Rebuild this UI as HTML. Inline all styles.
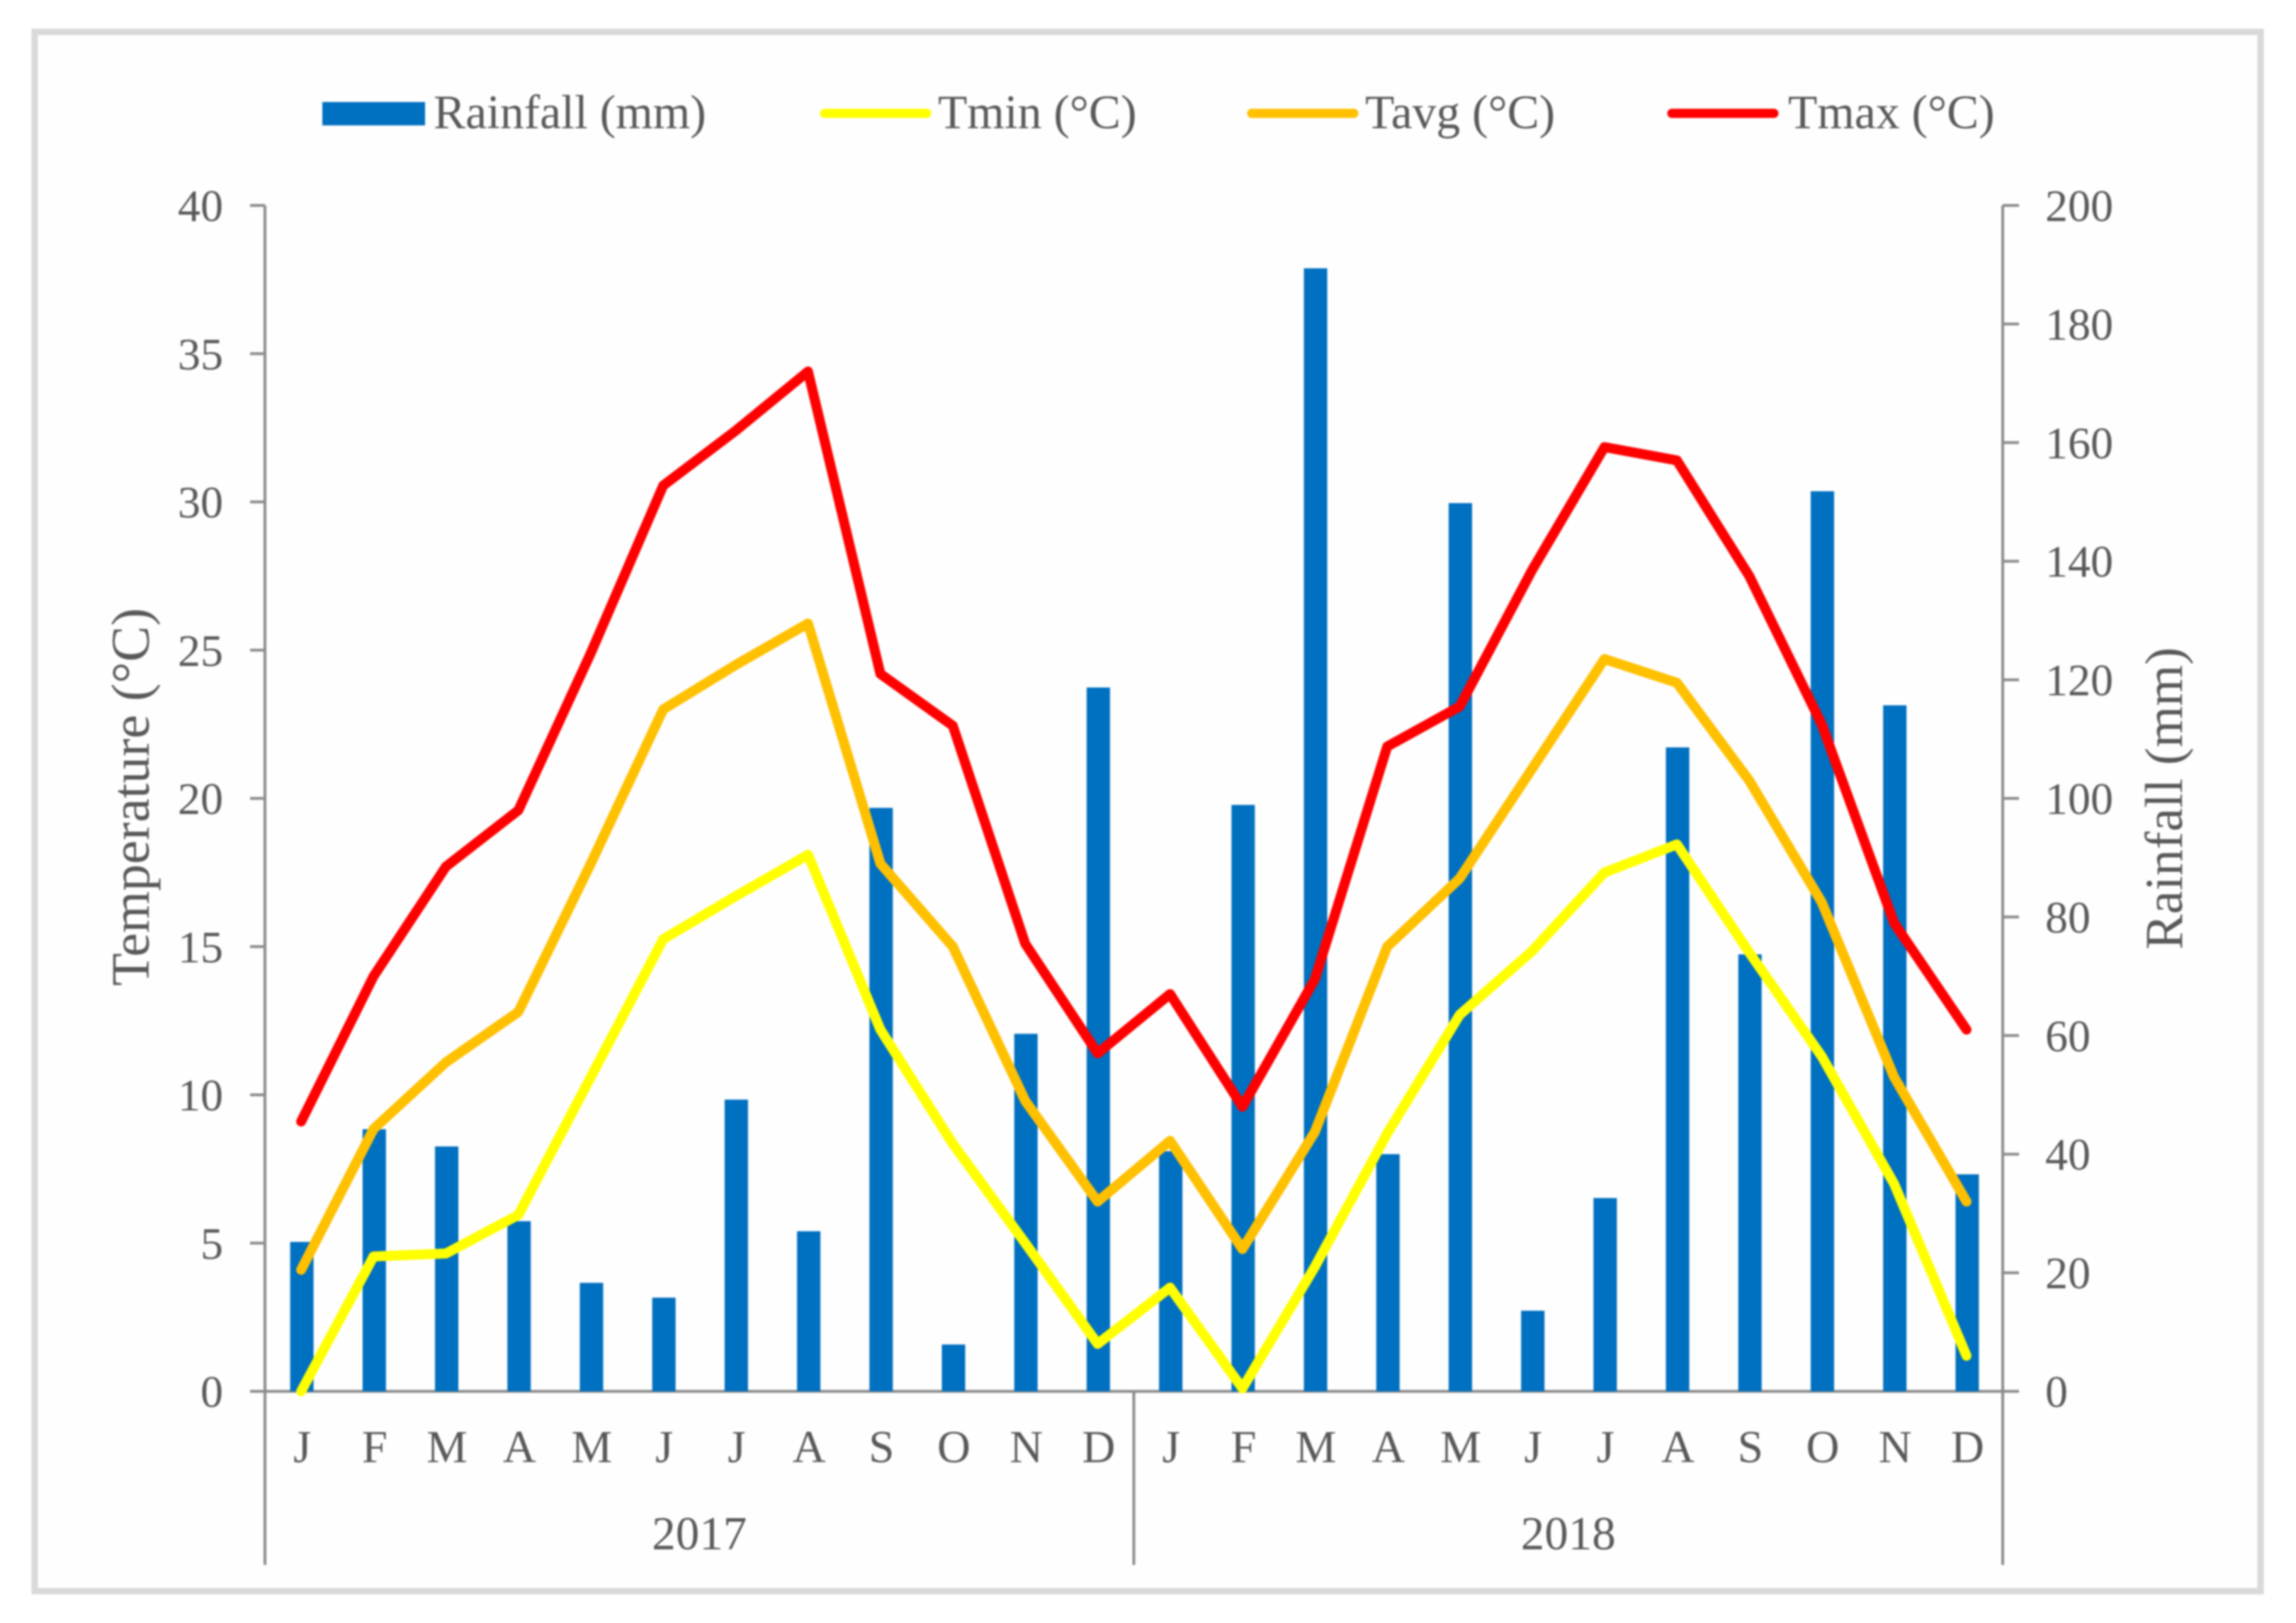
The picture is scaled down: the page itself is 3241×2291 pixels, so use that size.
<!DOCTYPE html>
<html lang="en">
<head>
<meta charset="utf-8">
<title>Monthly rainfall and temperature 2017-2018</title>
<style>
html,body{margin:0;padding:0;background:#fff;width:3241px;height:2291px;overflow:hidden}
svg{display:block;filter:blur(1.2px)}
text{font-family:"Liberation Serif",serif;fill:#595959}
</style>
</head>
<body>
<svg id="chart" xmlns="http://www.w3.org/2000/svg" width="3241" height="2291" viewBox="0 0 3241 2291">
  <rect x="49" y="45" width="3142" height="2201" fill="#fefefe" stroke="#d9d9d9" stroke-width="9"/>
  <g>
    <g>
      <rect x="455" y="144" width="145" height="33" fill="#0070c0"/>
      <text x="612" y="181" font-size="67.6">Rainfall (mm)</text>
    </g>
    <g>
      <line x1="1164" y1="160" x2="1308" y2="160" stroke="#ffff00" stroke-width="13" stroke-linecap="round"/>
      <text x="1324" y="181" font-size="67.6">Tmin (°C)</text>
    </g>
    <g>
      <line x1="1767" y1="160" x2="1911" y2="160" stroke="#ffc000" stroke-width="13" stroke-linecap="round"/>
      <text x="1927" y="181" font-size="67.6">Tavg (°C)</text>
    </g>
    <g>
      <line x1="2360" y1="160" x2="2504" y2="160" stroke="#ff0000" stroke-width="13" stroke-linecap="round"/>
      <text x="2524" y="181" font-size="67.6">Tmax (°C)</text>
    </g>
  </g>
  <text transform="translate(210 1125) rotate(-90)" text-anchor="middle" font-size="76">Temperature (°C)</text>
  <text transform="translate(3080 1127) rotate(-90)" text-anchor="middle" font-size="75">Rainfall (mm)</text>
  <g id="axes"></g>
  <g id="bars"></g>
  <g id="lines"></g>
</svg>
<script>
const months = ["J","F","M","A","M","J","J","A","S","O","N","D","J","F","M","A","M","J","J","A","S","O","N","D"];
const years = ["2017","2018"];
const tempTicks = [0,5,10,15,20,25,30,35,40];
const rainTicks = [0,20,40,60,80,100,120,140,160,180,200];
const rainfall = [25.2,44.2,41.3,28.7,18.3,15.8,49.2,27,98.4,7.9,60.3,118.7,40.5,98.9,189.4,40,149.8,13.6,32.6,108.6,73.7,151.8,115.7,36.6];
const tmin = [0,4.55,4.65,5.95,10.6,15.25,16.7,18.1,12.2,8.35,5,1.6,3.5,0.1,4.2,8.7,12.7,14.85,17.5,18.45,14.8,11.3,7,1.2];
const tavg = [4.1,8.85,11.1,12.8,17.8,23,24.5,25.9,17.8,15,9.8,6.4,8.45,4.8,8.75,15,17.3,21,24.7,23.9,20.6,16.5,10.6,6.4];
const tmax = [9.1,14,17.7,19.6,24.9,30.55,32.4,34.4,24.2,22.45,15.1,11.4,13.4,9.6,13.9,21.75,23.1,27.7,31.85,31.4,27.5,22.5,15.8,12.2];

const NS = "http://www.w3.org/2000/svg";
const plotLeft = 374, plotRight = 2827, plotBottom = 1964, plotTop = 290, axisEnd = 2209;
const step = (plotRight - plotLeft) / months.length;
const xScale = i => plotLeft + step * (i + 0.5);
const yTemp = v => plotBottom - (v / 40) * (plotBottom - plotTop);
const yRain = v => plotBottom - (v / 200) * (plotBottom - plotTop);

function make(tag, attrs, parent, content) {
  const el = document.createElementNS(NS, tag);
  for (const k in attrs) el.setAttribute(k, attrs[k]);
  if (content !== undefined) el.textContent = content;
  parent.appendChild(el);
  return el;
}

const axes = document.getElementById("axes");
const barsG = document.getElementById("bars");
const linesG = document.getElementById("lines");
const axisStyle = {stroke: "#8c8c8c", "stroke-width": 4};

const leftAxis = make("line", {x1: plotLeft, y1: plotTop, x2: plotLeft, y2: axisEnd, ...axisStyle}, axes);


const rightAxis = make("line", {x1: plotRight, y1: plotTop, x2: plotRight, y2: axisEnd, ...axisStyle}, axes);


const baseAxis = make("line", {x1: plotLeft, y1: plotBottom, x2: plotRight, y2: plotBottom, ...axisStyle}, axes);



years.forEach((yr, i) => {
  const groupWidth = (plotRight - plotLeft) / years.length;
  const label = make("text", {x: plotLeft + groupWidth * (i + 0.5), y: 2187, "text-anchor": "middle", "font-size": 67}, axes, yr);
  
  
  if (i > 0) {
    const divider = make("line", {x1: plotLeft + groupWidth * i, y1: plotBottom, x2: plotLeft + groupWidth * i, y2: axisEnd, ...axisStyle}, axes);
    
    
  }
});

tempTicks.forEach(t => {
  const tick = make("line", {x1: plotLeft - 21, y1: yTemp(t), x2: plotLeft, y2: yTemp(t), ...axisStyle}, axes);
  
  
  const label = make("text", {x: 315, y: yTemp(t) + 22, "text-anchor": "end", "font-size": 64}, axes, t);
  
  
});

rainTicks.forEach(t => {
  const tick = make("line", {x1: plotRight, y1: yRain(t), x2: plotRight + 23, y2: yRain(t), ...axisStyle}, axes);
  
  
  const label = make("text", {x: 2887, y: yRain(t) + 22, "font-size": 64}, axes, t);
  
  
});

months.forEach((m, i) => {
  const label = make("text", {x: xScale(i) + 1.5, y: 2064, "text-anchor": "middle", "font-size": 65}, axes, m);
  
  
});

const barWidth = 33;
rainfall.forEach((v, i) => {
  const bar = make("rect", {x: xScale(i) - barWidth / 2 + 1, y: yRain(v), width: barWidth, height: plotBottom - yRain(v), fill: "#0070c0"}, barsG);
  
  
});

function drawLine(values, color, name) {
  const pts = values.map((v, i) => xScale(i) + "," + yTemp(v)).join(" ");
  const line = make("polyline", {points: pts, fill: "none", stroke: color, "stroke-width": 14, "stroke-linecap": "round", "stroke-linejoin": "round"}, linesG);
  
  
}
drawLine(tmin, "#ffff00", "tmin-line");
drawLine(tavg, "#ffc000", "tavg-line");
drawLine(tmax, "#ff0000", "tmax-line");
</script>
</body>
</html>
